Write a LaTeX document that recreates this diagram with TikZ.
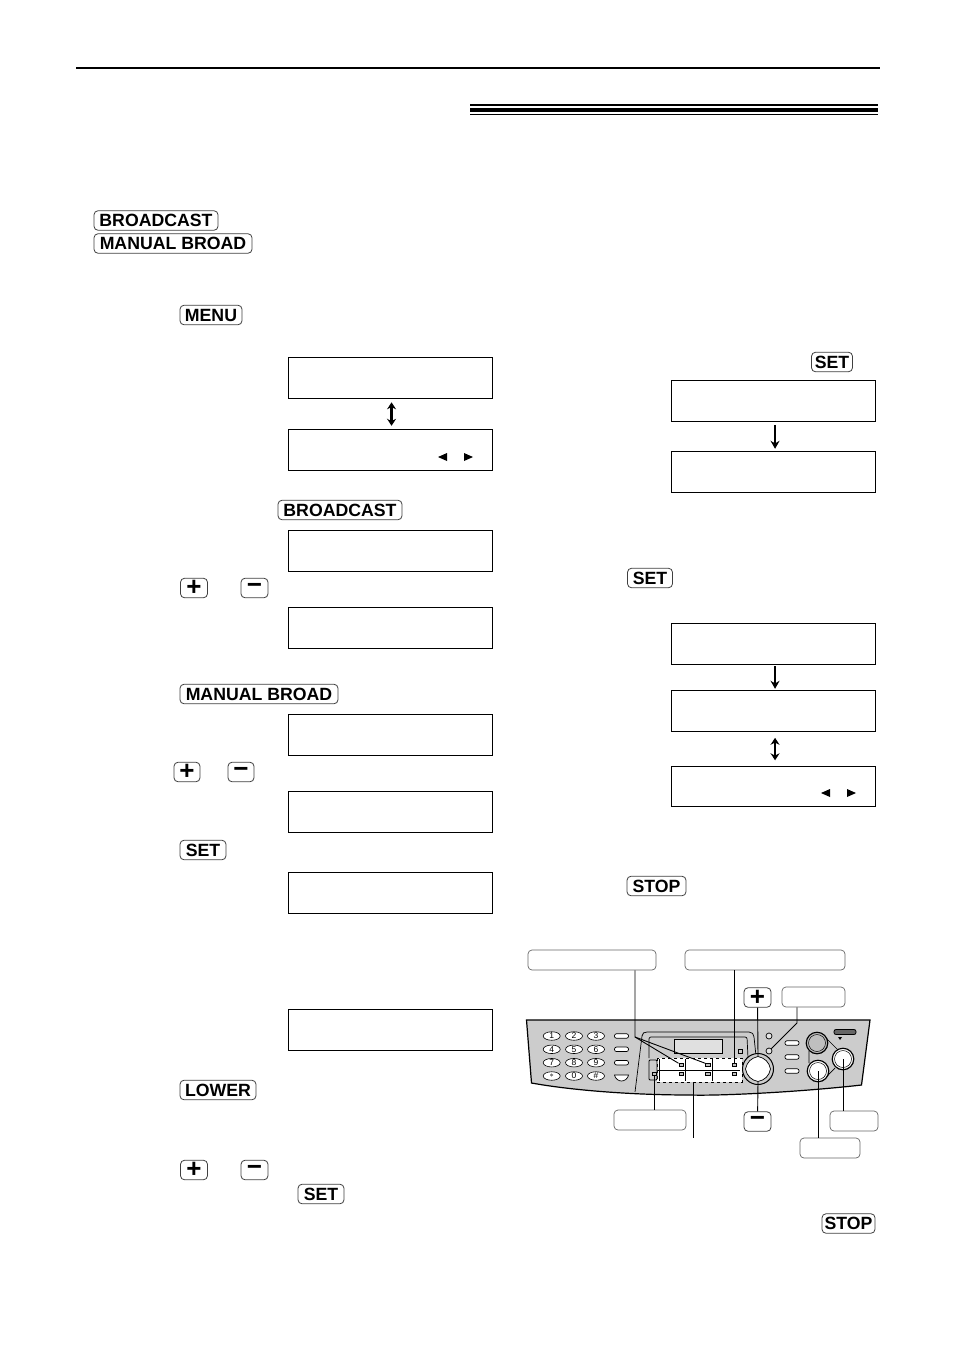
\documentclass[tikz,border=0pt]{standalone}
\usepackage{fontspec}
\setmainfont{Liberation Sans}
\usetikzlibrary{positioning, arrows.meta, shapes.geometric}

\tikzset{
  keybtn/.style = {draw=black!75, fill=white, rounded corners=4pt, line width=0.8pt,
    inner sep=0pt, minimum height=19.5pt, font=\fontsize{17.7}{18}\selectfont\bfseries},
  signbtn/.style = {keybtn, minimum width=27pt, font=\fontsize{26}{26}\selectfont\bfseries},
  lcd/.style = {draw, line width=1pt, minimum width=203.5pt, minimum height=40.5pt,
    inner sep=0pt, outer sep=0pt, anchor=north west},
  callout/.style = {draw=black!60, fill=white, rounded corners=4pt, line width=0.7pt,
    inner sep=0pt, minimum height=20pt},
  digit/.style = {draw, ellipse, fill=white, line width=0.6pt, minimum width=17pt, minimum height=8.5pt,
    inner sep=0pt, font=\fontsize{8.5}{8.5}\selectfont},
  pill/.style = {draw, fill=white, rounded corners=2pt, line width=0.7pt, minimum width=14pt,
    minimum height=4.5pt, inner sep=0pt},
  led/.style = {draw, fill=black!25, line width=0.5pt, minimum width=4.5pt, minimum height=3pt, inner sep=0pt},
  roundbtn/.style = {circle, draw, line width=1.2pt, minimum size=21.5pt, inner sep=0pt},
  roundcap/.style = {circle, draw, line width=0.5pt, minimum size=17pt, inner sep=0pt},
  lamp/.style = {circle, draw, line width=0.7pt, fill=black!10, minimum size=6pt, inner sep=0pt},
  leader/.style = {line width=0.9pt},
  flow/.style = {line width=2.3pt, -{Stealth[length=8pt, width=9pt]}},
  flowboth/.style = {line width=2.3pt, {Stealth[length=7pt, width=9pt]}-{Stealth[length=7pt, width=9pt]}}
}

\begin{document}
\begin{tikzpicture}[x=1pt, y=-1pt]
\useasboundingbox (0,0) rectangle (954,1349);

% page rules
\fill (76,67) rectangle (880,69);
\fill (470,104) rectangle (878,106);
\fill (470,108) rectangle (878,112);
\fill (470,113.7) rectangle (878,115);

% keys, left column
\node[keybtn, minimum width=124pt] (broadcastA) at (156,220.5) {BROADCAST};
\node[keybtn, minimum width=158pt] (manualA) at (173,243.5) {MANUAL BROAD};
\node[keybtn, minimum width=62pt] (menuA) at (211,315) {MENU};
\node[keybtn, minimum width=124pt] (broadcastB) at (340,510) {BROADCAST};
\node[signbtn] (plusA) at (194,588) {+};
\node[signbtn] (minusA) at (254.5,588) {\raisebox{-2pt}{−}};
\node[keybtn, minimum width=158pt] (manualB) at (259,694) {MANUAL BROAD};
\node[signbtn, minimum width=26pt] (plusB) at (187,772) {+};
\node[signbtn, minimum width=26pt] (minusB) at (241,772) {\raisebox{-2pt}{−}};
\node[keybtn, minimum width=46pt] (setA) at (203,850) {SET};
\node[keybtn, minimum width=76pt] (lowerA) at (218,1090) {LOWER};
\node[signbtn] (plusC) at (194,1170) {+};
\node[signbtn] (minusC) at (254.5,1170) {\raisebox{-2pt}{−}};
\node[keybtn, minimum width=46pt] (setB) at (321,1194) {SET};

% keys, right column
\node[keybtn, minimum width=41pt] (setC) at (832,362) {SET};
\node[keybtn, minimum width=45pt] (setD) at (650,578) {SET};
\node[keybtn, minimum width=59pt] (stopA) at (656.5,886) {STOP};
\node[keybtn, minimum width=53pt] (stopB) at (848.5,1223.5) {STOP};

% displays, left column
\node[lcd] (lcdA) at (288.8,357.8) {};
\node[lcd] (lcdB) [below = 31.5pt of lcdA] {};
\node[lcd] (lcdC) at (288.8,530.8) {};
\node[lcd] (lcdD) [below = 36.5pt of lcdC] {};
\node[lcd] (lcdE) at (288.8,714.8) {};
\node[lcd, minimum height=41pt] (lcdF) [below = 36.5pt of lcdE] {};
\node[lcd] (lcdG) at (288.8,872.8) {};
\node[lcd] (lcdH) at (288.8,1009.8) {};

% displays, right column
\node[lcd, minimum height=41pt] (lcdI) at (671.8,380.8) {};
\node[lcd, minimum height=41pt] (lcdJ) [below = 30pt of lcdI] {};
\node[lcd] (lcdK) at (671.8,623.8) {};
\node[lcd, minimum height=41pt] (lcdL) [below = 26.5pt of lcdK] {};
\node[lcd] (lcdM) [below = 34.5pt of lcdL] {};

% arrows between displays
\draw[flowboth, shorten >=4pt, shorten <=4pt] ([xshift=1pt]lcdA.south) -- ([xshift=1pt]lcdB.north);
\draw[flow, shorten >=3pt, shorten <=3pt] ([xshift=1.5pt]lcdI.south) -- ([xshift=1.5pt]lcdJ.north);
\draw[flow, shorten >=2pt, shorten <=2pt] ([xshift=1.5pt]lcdK.south) -- ([xshift=1.5pt]lcdL.north);
\draw[flowboth, shorten >=6pt, shorten <=6pt] ([xshift=1.5pt]lcdL.south) -- ([xshift=1.5pt]lcdM.north);

% small triangles in the displays
\fill (438,457) -- (447,453) -- (447,461) -- cycle;
\fill (473,457) -- (464,453) -- (464,461) -- cycle;
\fill (821,793) -- (830,789) -- (830,797) -- cycle;
\fill (856,793) -- (847,789) -- (847,797) -- cycle;

% panel body
\draw[line width=1.2pt, fill=black!20] (526.5,1020) -- (870,1020) -- (861.5,1085)
  .. controls (800,1092) and (720,1096) .. (690,1095)
  .. controls (630,1095) and (570,1090) .. (531.5,1083) -- cycle;

% display frame
\draw[line width=0.7pt] (635,1092) -- (642,1036) .. controls (642.5,1033) and (644,1032) .. (647,1032)
  -- (749,1032) .. controls (752,1032) and (754,1034) .. (754,1037) -- (756,1056);
\draw[line width=0.7pt, rounded corners=2pt] (649,1058) -- (649,1037) -- (747,1037) -- (748,1058);
\draw[line width=0.7pt, fill=black!12] (674,1039) rectangle (722,1053);
\draw[line width=0.6pt] (738,1049) rectangle (742,1053);

% dial pad
\node[digit] (key1) at (551.7,1036) {1};
\node[digit] (key2) at (574,1036) {2};
\node[digit] (key3) at (596,1036) {3};
\node[digit] (key4) at (551.7,1049.3) {4};
\node[digit] (key5) at (574,1049.3) {5};
\node[digit] (key6) at (596,1049.3) {6};
\node[digit] (key7) at (551.7,1062.7) {7};
\node[digit] (key8) at (574,1062.7) {8};
\node[digit] (key9) at (596,1062.7) {9};
\node[digit] (keyS) at (551.7,1076) {$*$};
\node[digit] (key0) at (574,1076) {0};
\node[digit] (keyH) at (596,1076) {\#};
\node[pill] (pillA) at (621.5,1036) {};
\node[pill] (pillB) at (621.5,1049.3) {};
\node[pill] (pillC) at (621.5,1062.7) {};
\draw[line width=0.7pt, fill=white] (614.5,1075) -- (628.5,1075) .. controls (628,1079) and (624,1081) .. (621.5,1081)
  .. controls (619,1081) and (615,1079) .. (614.5,1075) -- cycle;

% station buttons
\draw[dashed, line width=0.7pt, fill=white] (657,1058) rectangle (742,1082);
\draw[line width=0.9pt] (658,1070) -- (740,1070) (685,1059) -- (685,1081) (712,1059) -- (712,1081) (659,1059) -- (659,1081);
\node[led] (ledA) at (681,1065) {};
\node[led] (ledB) at (707.7,1065) {};
\node[led] (ledC) at (734,1065) {};
\node[led] (ledD) at (681,1074) {};
\node[led] (ledE) at (707.7,1074) {};
\node[led] (ledF) at (734,1074) {};
\draw[line width=0.8pt, fill=black!20, rounded corners=1pt] (649,1060) rectangle (657,1080);
\node[led] (ledG) at (654,1074) {};

% navigator and right side buttons
\node[circle, draw, line width=1pt, fill=black!20, minimum size=31pt, inner sep=0pt] (wheel) at (758,1069) {};
\draw[line width=0.7pt, fill=white] (758,1056.5)
  .. controls (765,1058) and (769,1062) .. (770.5,1069)
  .. controls (769,1076) and (765,1080) .. (758,1081.5)
  .. controls (751,1080) and (747,1076) .. (745.5,1069)
  .. controls (747,1062) and (751,1058) .. (758,1056.5) -- cycle;
\node[circle, minimum size=25pt, inner sep=0pt] (wheelin) at (758,1069) {};
\node[lamp] (lampA) at (769,1036) {};
\node[lamp] (lampB) at (769,1051) {};
\node[pill] (pillD) at (792,1043) {};
\node[pill] (pillE) at (792,1057) {};
\node[pill] (pillF) at (792,1071) {};
\draw[line width=0.7pt] (826,1038) -- (838,1050) (835,1068) -- (826,1077) (809,1051) -- (809,1063);
\node[roundbtn, fill=black!25] (roundA) at (817,1043) {};
\node[roundbtn, fill=white] (roundB) at (843,1059) {};
\node[roundbtn, fill=white] (roundC) at (818,1071) {};
\node[roundcap] (capA) at (roundA) {};
\node[roundcap] (capB) at (roundB) {};
\node[roundcap] (capC) at (roundC) {};
\node[draw, fill=black!60, rounded corners=2pt, line width=0.8pt, minimum width=22pt, minimum height=5pt, inner sep=0pt] (startbar) at (845,1032) {};
\fill (838,1037) -- (842,1037) -- (840,1040) -- cycle;

% callouts
\node[callout, minimum width=128pt] (boxA) at (592,960) {};
\node[callout, minimum width=160pt] (boxB) at (765,960) {};
\node[callout, minimum width=63pt] (boxC) at (813.5,997) {};
\node[callout, minimum width=72pt] (boxD) at (650,1120) {};
\node[callout, minimum width=48pt] (boxE) at (854,1121) {};
\node[callout, minimum width=60pt] (boxF) at (830,1148) {};
\node[signbtn] (plusD) at (757.5,997.5) {+};
\node[signbtn] (minusD) at (757.5,1121.5) {\raisebox{-2pt}{−}};

% leaders
\coordinate (bendA) at (635,1037);
\coordinate (bendB) at (797,1023);
\coordinate (dashend) at (693,1138);
\draw[leader] (boxA.south -| bendA) -- (bendA) -- (ledA.north west);
\draw[leader] (bendA) -- (ledB.north west);
\draw[leader] (boxB.south -| ledC) -- (ledC.north);
\draw[leader] (plusD) -- (wheelin.north);
\draw[leader] (minusD) -- (wheelin.south);
\draw[leader] (boxC.south -| bendB) -- (bendB) -- (lampB.north east);
\draw[leader] (boxD.north -| ledG) -- (ledG.south);
\draw[leader] (693,1082) -- (dashend);
\draw[leader] (boxF.north -| roundC) -- (roundC.center);
\draw[leader] (boxE.north -| roundB) -- (roundB.center);

\end{tikzpicture}
\end{document}
